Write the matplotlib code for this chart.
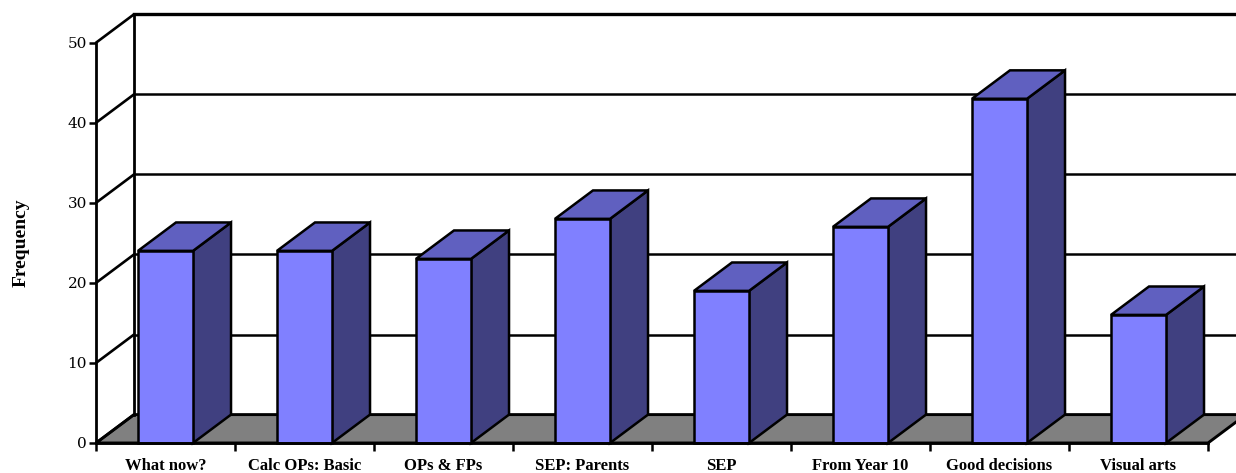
import matplotlib
matplotlib.use("Agg")
import matplotlib.pyplot as plt
from matplotlib.patches import Polygon

categories = ["What now?", "Calc OPs: Basic", "OPs & FPs", "SEP: Parents",
              "SEP", "From Year 10", "Good decisions", "Visual arts"]
values = [24, 24, 23, 28, 19, 27, 43, 16]
y_ticks = [0, 10, 20, 30, 40, 50]
y_label = "Frequency"

FRONT = "#8080FF"
SIDE = "#404080"
TOP = "#6060C0"
FLOOR = "#808080"
W, H = 1236, 473
L, R, B, T = 96, 1208, 443, 42.7
n = len(categories)

fig = plt.figure(figsize=(W / 100, H / 100), dpi=100)
ax = fig.add_axes([L / W, 1 - B / H, (R - L) / W, (B - T) / H])
ax.set_xlim(0, n)
ax.set_ylim(0, 50)
ax.patch.set_visible(False)

DX = 38 / ((R - L) / n)
DY = 28.4 / ((B - T) / 50)
BW = 0.396
edge = dict(edgecolor="black", clip_on=False, joinstyle="miter")
LW = 1.8

# floor
ax.add_patch(Polygon([(0, 0), (DX, DY), (n + DX, DY), (n, 0)], closed=True,
                     facecolor=FLOOR, linewidth=LW + 0.3, zorder=1, **edge))
# walls and grid
for v in y_ticks:
    w = 2.4 if v == 50 else 1.8
    ax.plot([0, DX], [v, v + DY], color="black", lw=1.9, clip_on=False, zorder=1.5,
            solid_capstyle="round")
    if v > 0:
        ax.plot([DX, n + DX], [v + DY, v + DY], color="black", lw=w, clip_on=False, zorder=1.5)
ax.plot([DX, DX], [DY, 50 + DY], color="black", lw=2.0, clip_on=False, zorder=1.5)

# bars
for i, v in enumerate(values):
    a = i + 0.5 - BW / 2
    b = i + 0.5 + BW / 2
    z = 3 + i
    ax.add_patch(Polygon([(b, 0), (b + DX, DY), (b + DX, v + DY), (b, v)], closed=True,
                         facecolor=SIDE, linewidth=LW, zorder=z, **edge))
    ax.add_patch(Polygon([(a, v), (a + DX, v + DY), (b + DX, v + DY), (b, v)], closed=True,
                         facecolor=TOP, linewidth=LW, zorder=z, **edge))
    ax.add_patch(Polygon([(a, 0), (a, v), (b, v), (b, 0)], closed=True,
                         facecolor=FRONT, linewidth=LW, zorder=z, **edge))

for s in ("top", "right"):
    ax.spines[s].set_visible(False)
for s in ("left", "bottom"):
    ax.spines[s].set_linewidth(2.0)
    ax.spines[s].set_zorder(20)

ax.set_yticks(y_ticks)
ax.set_xticks(range(n + 1))
ax.set_xticklabels([])
ax.set_xticks([i + 0.5 for i in range(n)], minor=True)
ax.set_xticklabels(categories, minor=True, family="Liberation Serif",
                   fontweight="bold", fontsize=12)
ax.tick_params(axis="x", which="major", length=5.5, width=1.8)
ax.tick_params(axis="x", which="minor", length=0, pad=10.5)
ax.tick_params(axis="y", length=5, width=1.8, pad=1.5)
for t in ax.get_yticklabels():
    t.set_family("DejaVu Serif")
    t.set_fontsize(11)

fig.text(21.5 / W, 1 - 243 / H, y_label, rotation=90, ha="center", va="center",
         family="Liberation Serif", fontweight="bold", fontsize=14)

fig.savefig("out.png", dpi=100)
